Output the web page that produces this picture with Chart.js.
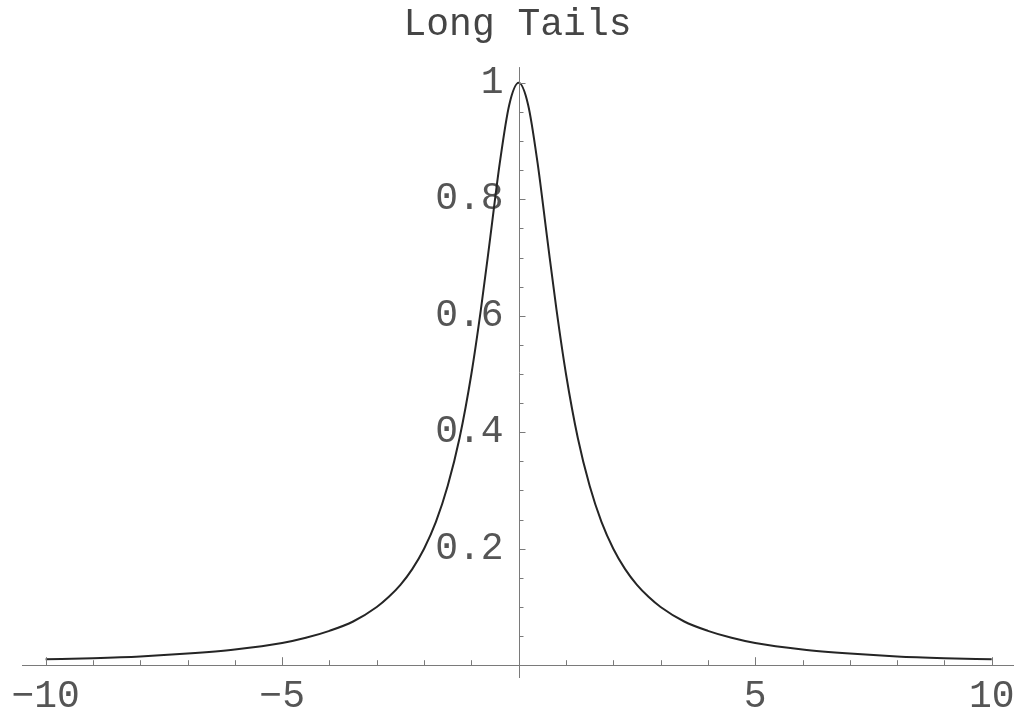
<!DOCTYPE html>
<html>
<head>
<meta charset="utf-8">
<title>Long Tails</title>
<script src="https://cdn.jsdelivr.net/npm/chart.js@4/dist/chart.umd.min.js"></script>
<style>
  html, body { margin: 0; padding: 0; background: #fff; }
  canvas { display: block; }
</style>
</head>
<body>
<canvas id="long-tails" width="1016" height="711"></canvas>
<script>
// values (curve peaks at 1 on x = 0)
const xValues = [-10, -9, -8, -7, -6, -5, -4.5, -4, -3.5, -3, -2.75, -2.5, -2.25, -2, -1.75, -1.5, -1.25, -1, -0.8, -0.6, -0.4, -0.2,
  0, 0.2, 0.4, 0.6, 0.8, 1, 1.25, 1.5, 1.75, 2, 2.25, 2.5, 2.75, 3, 3.5, 4, 4.5, 5, 6, 7, 8, 9, 10];
const yValues = [0.010, 0.012, 0.015, 0.020, 0.027, 0.038, 0.047, 0.059, 0.075, 0.100, 0.117, 0.138, 0.165, 0.200, 0.246, 0.308, 0.390, 0.500, 0.610, 0.735, 0.862, 0.962,
  1.000, 0.962, 0.862, 0.735, 0.610, 0.500, 0.390, 0.308, 0.246, 0.200, 0.165, 0.138, 0.117, 0.100, 0.075, 0.059, 0.047, 0.038, 0.027, 0.020, 0.015, 0.012, 0.010];
const xTickValues = [-10, -5, 5, 10];
const xTickLabels = ['\u221210', '\u22125', '5', '10'];
const yTickLabels = ['0.2', '0.4', '0.6', '0.8', '1'];

const fontFamily = "'Courier New', 'Liberation Mono', monospace";
const axisColor = '#7a7a7a';
const textColor = '#555555';

// Mathematica style tick marks on the inner side of the crossing axes,
// plus the vertical axis line at x = 0 (the y labels sit a bit to its left)
const tickMarks = {
    id: 'tickMarks',
    afterDraw(chart) {
        const xs = chart.scales.x, ys = chart.scales.y;
        const area = chart.chartArea;
        const ctx = chart.ctx;
        const x0 = Math.round(xs.getPixelForValue(0)) + 0.5;
        const y0 = ys.getPixelForValue(0);
        ctx.save();
        ctx.strokeStyle = axisColor;
        ctx.lineWidth = 1;
        ctx.beginPath();
        ctx.moveTo(x0, area.top);
        ctx.lineTo(x0, area.bottom);
        xs.ticks.forEach((t) => {
            if (t.value === 0) return;
            const px = Math.round(xs.getPixelForValue(t.value)) + 0.5;
            const len = t.value % 5 === 0 ? 8 : 5;
            ctx.moveTo(px, y0);
            ctx.lineTo(px, y0 - len);
        });
        ys.ticks.forEach((t) => {
            const r = Math.round(t.value * 100);
            if (r === 0) return;
            const py = Math.round(ys.getPixelForValue(t.value)) + 0.5;
            const len = r % 20 === 0 ? 6 : 4;
            ctx.moveTo(x0, py);
            ctx.lineTo(x0 + len, py);
        });
        ctx.stroke();
        ctx.restore();
    }
};

const ctx = document.getElementById('long-tails').getContext('2d');
const longTailsChart = new Chart(ctx, {
    type: 'line',
    data: {
        datasets: [{
            label: 'Long Tails',
            data: xValues.map((x, i) => ({x: x, y: yValues[i]})),
            borderColor: '#252525',
            borderWidth: 2,
            pointRadius: 0,
            fill: false,
            cubicInterpolationMode: 'monotone'
        }]
    },
    options: {
        responsive: false,
        animation: false,
        layout: {
            padding: {left: 22, right: 3, top: 0, bottom: 33}
        },
        plugins: {
            legend: {display: false},
            tooltip: {enabled: false},
            title: {
                display: true,
                text: 'Long Tails',
                color: '#454545',
                font: {family: fontFamily, size: 38, weight: 'normal'},
                padding: {top: 2, bottom: 19.5}
            }
        },
        scales: {
            x: {
                type: 'linear',
                position: {y: 0},
                min: -10.5,
                max: 10.45,
                grid: {drawOnChartArea: false, drawTicks: true, tickLength: 9, tickColor: 'rgba(0,0,0,0)'},
                border: {display: true, color: axisColor, width: 1},
                ticks: {
                    stepSize: 1,
                    includeBounds: false,
                    autoSkip: false,
                    maxRotation: 0,
                    minRotation: 0,
                    padding: 0,
                    color: textColor,
                    font: {family: fontFamily, size: 38},
                    callback: (v) => {
                        const i = xTickValues.indexOf(v);
                        return i >= 0 ? xTickLabels[i] : '';
                    }
                }
            },
            y: {
                type: 'linear',
                position: {x: -0.32},
                min: -0.022,
                max: 1.027,
                grid: {display: false},
                border: {display: false},
                ticks: {
                    stepSize: 0.05,
                    includeBounds: false,
                    autoSkip: false,
                    padding: 0,
                    color: textColor,
                    font: {family: fontFamily, size: 38},
                    callback: (v) => {
                        const r = Math.round(v * 100);
                        const s = r === 100 ? '1' : (r / 100).toFixed(1);
                        return (r % 20 === 0 && yTickLabels.includes(s)) ? s : '';
                    }
                }
            }
        }
    },
    plugins: [tickMarks]
});
</script>
</body>
</html>
